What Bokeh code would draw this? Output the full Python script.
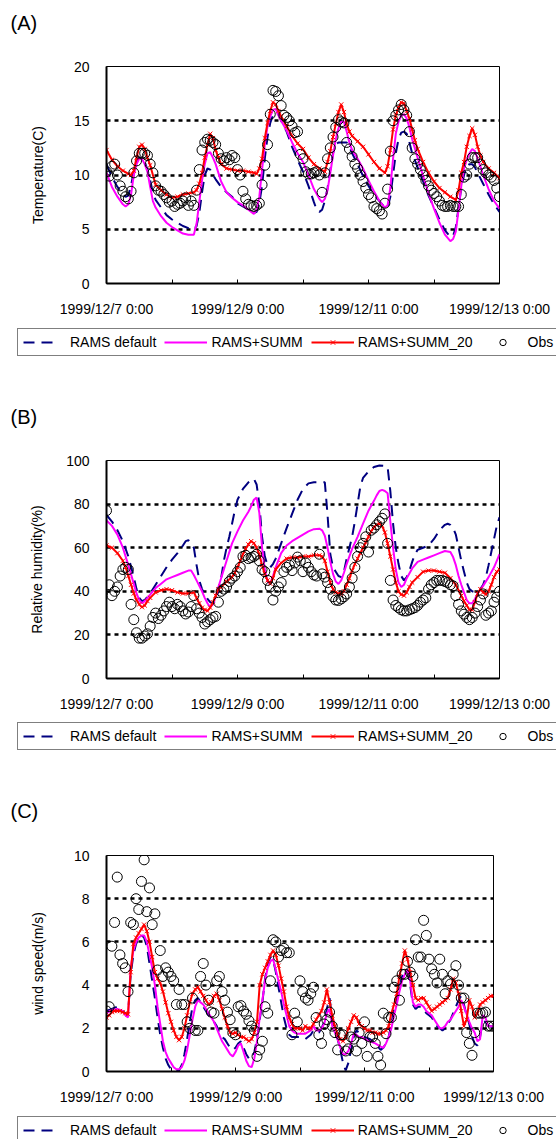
from bokeh.plotting import figure
from bokeh.layouts import column
from bokeh.models import Range1d, FixedTicker, Legend, LegendItem, Label
from bokeh.embed import file_html
from bokeh.resources import INLINE

# ---------------- DATA (hours since 1999/12/7 0:00) ----------------
tick_hours = [0, 24, 48, 72, 96, 120, 144]
tick_labels = {0: "1999/12/7 0:00", 24: "", 48: "1999/12/9 0:00", 72: "",
               96: "1999/12/11 0:00", 120: "", 144: "1999/12/13 0:00"}
series_names = ["RAMS default", "RAMS+SUMM", "RAMS+SUMM_20", "Obs"]

# Panel A: temperature (C)
ta_def = [(0,11.0),(2,9.8),(4,8.9),(6,8.2),(7,8.0),(8,8.1),(9,9.0),(10,10.4),(11,11.2),(12,11.6),(13,11.6),(14,11.2),(15,10.5),(16,9.5),(17,8.4),(18,7.7),(20,7.0),(22,6.3),(24,5.9),(26,5.6),(28,5.3),(30,5.1),(32,5.0),(33,5.3),(34,6.5),(35,8.4),(36,10.0),(37,10.6),(38,10.5),(39,10.0),(40,9.6),(42,8.9),(44,8.4),(46,8.0),(48,7.4),(50,7.1),(52,6.8),(54,6.5),(55,6.6),(56,7.4),(57,9.0),(58,11.5),(59,13.5),(60,14.8),(61,15.5),(62,15.8),(63,15.6),(64,15.0),(66,14.0),(68,12.6),(70,11.4),(72,10.3),(74,9.0),(76,7.5),(77,6.8),(78,6.6),(79,6.8),(80,7.6),(81,8.8),(82,10.5),(83,12.0),(84,12.8),(85,13.0),(86,13.0),(88,13.0),(89,12.6),(90,12.0),(92,11.0),(94,9.9),(96,9.0),(98,8.2),(100,7.6),(102,7.0),(103,7.0),(104,8.0),(105,10.0),(106,12.0),(107,13.3),(108,13.9),(109,14.0),(110,13.8),(111,13.0),(112,12.0),(114,10.7),(116,9.4),(118,8.1),(120,7.0),(122,5.9),(124,4.9),(126,4.3),(127,4.4),(128,5.2),(129,7.0),(130,8.8),(131,10.0),(132,10.8),(133,11.0),(134,11.0),(135,10.7),(136,10.2),(138,9.2),(140,8.2),(142,7.3),(144,6.6)]
ta_summ = [(0,10.2),(2,8.9),(4,8.0),(6,7.3),(7,7.1),(8,7.3),(9,8.2),(10,10.0),(11,11.0),(12,11.5),(13,11.5),(14,11.0),(15,10.3),(16,8.9),(17,7.6),(18,7.0),(20,6.2),(22,5.6),(24,5.2),(26,4.9),(28,4.6),(30,4.5),(32,4.5),(33,5.5),(34,7.5),(35,9.5),(36,11.0),(37,12.0),(38,12.1),(39,11.6),(40,11.0),(41,10.2),(42,9.4),(44,8.4),(46,7.9),(48,7.5),(50,7.2),(52,6.8),(54,6.4),(55,6.8),(56,8.0),(57,10.5),(58,12.8),(59,14.5),(60,15.4),(61,16.0),(62,16.1),(63,15.5),(64,15.0),(66,14.1),(68,13.0),(70,12.0),(72,11.2),(74,10.0),(76,8.7),(78,7.8),(79,7.5),(80,7.8),(81,8.6),(82,10.2),(83,11.8),(84,13.3),(85,14.3),(86,14.9),(87,14.9),(88,14.0),(89,13.0),(90,12.3),(92,11.5),(94,10.6),(96,9.5),(98,8.5),(100,7.6),(102,7.0),(103,7.2),(104,8.8),(105,11.5),(106,13.8),(107,14.9),(108,15.5),(109,15.6),(110,15.2),(111,14.4),(112,13.3),(114,11.6),(116,9.9),(118,8.3),(120,6.9),(122,5.6),(124,4.5),(126,3.9),(127,4.1),(128,4.8),(129,6.8),(130,9.0),(131,10.6),(132,11.4),(133,12.0),(134,12.4),(135,12.2),(136,11.5),(137,10.8),(138,10.0),(140,8.7),(142,7.6),(144,6.9)]
ta_s20 = [(0,12.3),(2,11.4),(4,10.8),(6,10.4),(8,10.1),(9,10.0),(10,10.4),(11,11.6),(12,12.6),(13,12.8),(14,12.4),(15,11.6),(16,10.9),(18,9.1),(20,8.6),(22,8.2),(24,7.9),(26,8.0),(28,8.2),(30,8.3),(32,8.4),(33,8.6),(34,9.2),(35,10.2),(36,11.6),(37,12.8),(38,13.8),(39,13.4),(40,12.3),(41,11.6),(42,11.0),(44,10.6),(46,10.5),(48,10.4),(50,10.4),(52,10.3),(54,10.2),(55,10.1),(56,10.6),(57,11.5),(58,13.4),(59,14.8),(60,15.9),(61,16.7),(62,16.5),(63,15.9),(64,15.4),(66,14.5),(68,13.6),(70,12.9),(72,12.4),(74,11.6),(76,11.0),(78,10.6),(80,10.3),(81,11.2),(82,12.2),(83,13.5),(84,14.7),(85,15.8),(86,16.5),(87,15.8),(88,14.7),(89,14.0),(90,13.6),(92,13.1),(94,12.6),(96,11.9),(98,11.2),(100,10.6),(102,10.2),(103,10.8),(104,12.3),(105,14.2),(106,15.5),(107,16.2),(108,16.7),(109,16.6),(110,15.9),(111,15.2),(112,14.2),(113,13.2),(114,12.4),(116,11.2),(118,10.2),(120,9.4),(122,8.8),(124,8.4),(126,8.0),(128,7.7),(129,8.6),(130,10.2),(131,11.2),(132,12.6),(133,13.6),(134,14.3),(135,13.7),(136,12.6),(137,11.8),(138,11.2),(140,10.6),(142,10.2),(144,9.7)]
ta_obs = [10.3,9.9,10.8,11.0,10.0,9.0,8.5,8.0,7.8,8.5,10.2,11.3,12.0,12.0,12.0,11.8,11.0,10.2,9.0,8.6,8.5,8.2,7.9,7.5,7.6,7.1,7.3,7.4,7.6,7.9,7.2,7.6,7.2,8.6,10.5,12.3,13.0,13.3,13.2,13.0,12.8,12.0,11.5,11.3,11.6,11.4,11.8,11.6,10.5,10.0,8.5,7.8,7.3,7.2,7.1,7.2,7.4,9.1,10.9,12.8,15.6,17.8,17.7,17.3,16.4,15.5,15.3,15.0,14.5,13.9,14.0,11.9,11.5,10.3,10.1,10.1,10.2,10.3,10.0,8.4,10.2,11.5,12.5,13.5,14.4,15.1,14.9,14.8,13.0,12.4,11.7,11.0,10.6,10.0,9.4,8.8,8.2,7.9,7.1,6.9,6.7,6.4,7.4,8.7,12.2,15.0,15.5,16.0,16.5,16.0,15.5,14.0,12.5,11.5,11.0,10.5,10.0,9.5,9.0,8.6,8.3,8.0,7.6,7.2,7.1,7.1,7.2,7.1,7.1,7.1,8.2,9.8,10.0,11.0,11.6,11.6,11.6,11.0,10.5,10.2,10.0,9.8,9.5,8.8,8.0]

# Panel B: relative humidity (%)
rh_def = [(0,75),(2,72),(4,68),(6,63),(8,56),(10,46.5),(11,41),(12,37),(13,35.5),(14,36),(16,39),(18,43),(20,47),(22,51),(24,54.5),(26,57.5),(28,61),(29,63),(30,63.4),(31,62),(32,60),(33,52),(34,45),(35,41),(36,38.5),(37,36.5),(38,35),(39,34.3),(40,36),(41,40),(42,46),(43,54),(44,60),(45,65),(46,71),(47,77),(48,82),(50,87),(52,90),(54,91.6),(55,89),(56,80),(57,65),(58,56),(59,52),(60,51),(61,52.5),(62,55),(64,62),(66,69),(68,75.5),(70,82),(72,87),(74,89.5),(76,90),(78,90),(80,90),(81,75),(82,57),(83,51),(84,49),(85,47),(86,46.5),(87,49),(88,55),(89,60),(90,65),(91,72),(92,80),(93,88),(94,92),(96,95),(98,97),(100,97.7),(102,97.5),(103,97),(104,86),(105,71),(106,60),(107,52.6),(108,47),(109,45),(110,46.5),(111,49.5),(112,53.5),(113,57),(114,59),(116,60),(118,61),(120,64),(122,68),(124,70.5),(125,71),(126,70.5),(127,69),(128,66),(129,60),(130,54),(131,49),(132,44),(133,41),(134,40),(135,39.6),(136,39.8),(137,41),(138,43),(139,46.5),(140,52),(141,58),(142,64),(143,70),(144,74)]
rh_summ = [(0,72.5),(2,70),(4,66),(6,60),(8,52),(10,43.4),(11,39),(12,36),(13,34.5),(14,35.5),(16,38.5),(18,41.5),(20,43.5),(22,45.5),(24,46.5),(26,47.5),(28,48.5),(30,49.5),(31,49.5),(32,47.5),(33,45),(34,42.5),(35,40),(36,37),(37,34.5),(38,32.7),(39,34),(40,37.5),(41,42),(42,46),(44,54),(46,62),(48,67.5),(50,72.5),(52,76.5),(53,79),(54,82),(55,83),(56,76),(57,60),(58,50),(59,44.5),(60,43.5),(61,47),(62,51),(64,57.5),(66,61),(68,63),(70,64.5),(72,66),(74,67.5),(76,68.5),(78,68.7),(79,68),(80,65.5),(81,60),(82,53.5),(83,48),(84,44.5),(85,43.4),(86,45),(87,48.5),(88,52.5),(89,56),(90,59.5),(92,65),(94,71),(96,77),(98,81.5),(99,84),(100,86),(101,86.5),(102,86),(103,85),(104,72),(105,60),(106,50),(107,44),(108,42),(109,43),(110,46),(112,50.5),(114,53.5),(116,54.5),(118,55.5),(120,56.5),(122,57.5),(124,58.5),(126,58),(127,55.7),(128,52),(129,47),(130,43),(131,39.5),(132,36),(133,34.5),(134,34.5),(135,36.5),(136,39),(138,42.5),(140,46.5),(142,51),(143,54),(144,57)]
rh_s20 = [(0,61),(2,60),(4,57.5),(6,54),(7,51),(8,47),(9,43),(10,39),(11,36),(12,34),(13,32.7),(14,33.5),(15,35.5),(16,37),(18,39.5),(20,40.5),(22,41),(24,40.5),(26,39.5),(28,39),(30,39),(32,39.5),(33,37),(34,34.5),(35,32.5),(36,31.5),(37,31),(38,32.5),(39,35),(40,38),(41,41),(42,42),(44,44.5),(46,46.5),(47,48.5),(48,51),(49,54),(50,57),(51,59.5),(52,61.5),(53,63),(54,62),(55,60),(56,57),(57,52),(58,48),(59,45),(60,43.5),(61,46),(62,50),(64,53),(66,55),(68,55.5),(70,55.5),(72,56),(74,56),(76,56.5),(78,56.5),(79,56),(80,54),(81,49),(82,44),(83,41),(84,39.5),(85,39),(86,38.8),(87,40),(88,43),(89,46),(90,49.5),(91,52.5),(92,55),(93,57.5),(94,60),(95,62.5),(96,65),(97,67.5),(98,69.5),(99,70.5),(100,71),(101,70),(102,67),(103,62),(104,56),(105,50),(106,44),(107,40),(108,38.5),(109,38),(110,39.5),(111,42),(112,44),(114,46.5),(116,49),(118,49.5),(120,49.5),(122,49),(124,48.5),(126,46),(128,43),(130,38),(131,35.5),(132,33.5),(133,31.5),(134,31.5),(135,35),(136,39),(137,41),(138,39.5),(139,38.5),(140,40),(141,43),(142,46.5),(143,49),(144,50)]
rh_obs = [77,43,38,40,42,47,50,51,50,34,27,21,18.5,18.5,19.5,20.5,24,28,30,27.5,29,31,33,35,33,32,34,33,31,29.6,30.5,33,38,32,30,28,25,26,27,28,28.5,35,40,41,42,44.5,46,47,49,51,56,56.5,55,55.5,56,57,54,50,49,45,42,36,40,42,44,49,51,52,49.5,53,55.7,54,49,53,51,49,47.5,47,57,48,46.5,44,41,37.5,36,35.8,36.5,37.5,38.8,42,46,51,56,60,62,65,58,68,69,70.5,72,73.5,75.5,62,45,36,33.5,32.5,31.5,31,31,31.5,32,32.5,33.5,35,36,37,41,43,44,45,45,45,44.5,44,43,42.5,38,34,31,29.5,28,27,28,30,33,36,38.8,29,30,31,35,37.3,40]

# Panel C: wind speed (m/s)
ws_def = [(0,2.8),(2,2.9),(4,3.0),(6,2.8),(7,2.7),(8,2.6),(9,4.5),(10,5.4),(11,5.9),(12,6.2),(13,6.3),(14,6.2),(15,5.8),(16,5.0),(17,4.2),(18,3.4),(19,2.5),(20,1.7),(21,1.1),(22,0.6),(23,0.3),(24,0.1),(25,0.0),(26,0.0),(27,0.05),(28,0.3),(29,0.8),(30,1.5),(31,2.3),(32,3.0),(33,3.3),(34,3.4),(35,3.2),(36,3.0),(37,2.8),(38,2.6),(39,2.5),(40,2.3),(41,2.1),(42,1.8),(43,1.6),(44,1.5),(45,1.3),(46,1.1),(47,1.0),(48,1.1),(49,1.3),(50,1.4),(51,1.1),(52,0.8),(53,0.6),(54,0.6),(55,0.9),(56,1.5),(57,2.4),(58,3.2),(59,4.3),(60,5.0),(61,5.3),(62,5.2),(63,4.6),(64,3.9),(65,3.2),(66,2.5),(67,2.0),(68,1.7),(69,1.6),(70,1.6),(72,1.6),(74,1.5),(76,1.7),(77,1.9),(78,1.8),(79,1.8),(80,2.0),(81,2.3),(82,2.9),(83,3.4),(84,2.4),(85,1.9),(86,1.5),(87,1.0),(88,0.4),(89,0.05),(90,0.4),(91,1.0),(92,1.6),(93,1.9),(94,1.8),(95,1.7),(96,1.6),(98,1.5),(100,1.3),(102,1.0),(103,1.1),(104,1.3),(105,1.6),(106,2.2),(107,2.9),(108,3.4),(109,3.9),(110,4.4),(111,4.7),(112,4.7),(113,4.0),(114,3.1),(115,2.9),(116,3.0),(117,3.0),(118,2.9),(119,2.7),(120,2.6),(121,2.5),(122,2.3),(123,2.1),(124,2.0),(125,1.9),(126,2.0),(127,2.2),(128,2.4),(129,2.7),(130,3.0),(131,3.3),(132,3.5),(133,3.1),(134,2.6),(135,2.2),(136,1.6),(137,1.3),(138,1.2),(139,1.6),(140,2.3),(141,2.3),(142,2.1),(143,2.1),(144,2.0)]
ws_summ = [(0,2.7),(2,2.85),(4,2.9),(6,2.8),(7,2.6),(8,2.5),(9,4.8),(10,5.6),(11,6.0),(12,6.2),(13,6.3),(14,6.3),(15,6.0),(16,5.4),(17,4.8),(18,4.0),(19,3.0),(20,2.2),(21,1.4),(22,0.9),(23,0.6),(24,0.4),(25,0.2),(26,0.1),(27,0.1),(28,0.2),(29,0.5),(30,1.0),(31,1.7),(32,2.4),(33,3.0),(34,3.3),(35,3.2),(36,3.1),(37,2.9),(38,2.7),(39,2.5),(40,2.3),(41,2.0),(42,1.7),(43,1.4),(44,1.2),(45,1.0),(46,0.8),(47,0.7),(48,0.9),(49,1.2),(50,1.3),(51,0.9),(52,0.5),(53,0.25),(54,0.2),(55,0.6),(56,1.4),(57,2.5),(58,3.3),(59,4.2),(60,4.8),(61,5.1),(62,5.2),(63,4.7),(64,4.2),(65,3.7),(66,3.1),(67,2.6),(68,2.1),(69,1.9),(70,1.8),(71,1.75),(72,1.75),(74,1.75),(76,1.9),(77,2.1),(78,1.9),(79,1.9),(80,2.0),(81,2.2),(82,2.7),(83,2.9),(84,2.1),(85,1.8),(86,1.5),(87,1.1),(88,0.8),(89,0.8),(90,0.95),(91,1.3),(92,1.75),(93,1.7),(94,1.6),(95,1.6),(96,1.5),(98,1.4),(100,1.3),(102,1.15),(103,1.1),(104,1.3),(105,1.6),(106,2.0),(107,2.6),(108,3.1),(109,3.7),(110,4.2),(111,4.5),(112,4.7),(113,4.2),(114,3.2),(115,3.0),(116,3.1),(117,3.1),(118,3.0),(119,2.8),(120,2.7),(121,2.6),(122,2.4),(123,2.2),(124,2.0),(125,2.0),(126,2.1),(127,2.3),(128,2.4),(129,2.6),(130,2.8),(131,3.0),(132,3.3),(133,3.0),(134,2.65),(135,2.3),(136,2.0),(137,1.8),(138,1.4),(139,1.5),(140,2.6),(141,2.5),(142,2.1),(143,2.1),(144,2.1)]
ws_s20 = [(0,2.5),(1,2.6),(2,2.75),(3,2.8),(4,2.8),(5,2.8),(6,2.75),(7,2.7),(8,2.65),(9,4.6),(10,5.9),(11,6.2),(12,6.4),(13,6.6),(14,6.8),(15,6.5),(16,6.0),(17,5.3),(18,4.6),(19,4.3),(20,4.1),(21,3.7),(22,3.2),(23,2.7),(24,2.3),(25,1.9),(26,1.6),(27,1.45),(28,1.6),(29,2.0),(30,2.6),(31,3.2),(32,3.6),(33,3.8),(34,3.9),(35,3.7),(36,3.5),(37,3.3),(38,3.1),(39,3.2),(40,3.5),(41,3.6),(42,3.3),(43,2.9),(44,2.5),(45,2.1),(46,1.8),(47,1.75),(48,1.8),(49,1.7),(50,1.6),(51,1.6),(52,1.5),(53,1.4),(54,1.5),(55,1.8),(56,2.3),(57,4.0),(58,4.5),(59,4.8),(60,5.1),(61,5.4),(62,5.6),(63,5.4),(64,4.9),(65,4.3),(66,3.7),(67,3.0),(68,2.5),(69,2.2),(70,2.0),(71,2.0),(72,2.0),(73,1.9),(74,2.1),(75,2.0),(76,2.0),(77,2.2),(78,2.4),(79,2.6),(80,2.8),(81,3.2),(82,3.8),(83,3.2),(84,2.6),(85,2.1),(86,1.7),(87,1.5),(88,1.4),(89,1.6),(90,2.0),(91,2.3),(92,2.6),(93,2.5),(94,2.2),(95,2.1),(96,2.0),(97,1.9),(98,1.9),(99,1.8),(100,1.8),(101,1.75),(102,1.75),(103,1.8),(104,1.9),(105,2.1),(106,2.7),(107,3.1),(108,3.6),(109,4.4),(110,5.0),(111,5.6),(112,5.2),(113,4.6),(114,4.0),(115,3.4),(116,3.3),(117,3.4),(118,3.4),(119,3.2),(120,3.0),(121,2.8),(122,2.9),(123,3.0),(124,3.1),(125,3.2),(126,3.3),(127,3.4),(128,3.8),(129,4.3),(130,4.1),(131,3.6),(132,2.8),(133,2.1),(134,2.4),(135,3.3),(136,3.0),(137,2.5),(138,2.7),(139,3.1),(140,3.2),(141,3.3),(142,3.4),(143,3.5),(144,3.5)]
ws_obs = [2.8,3.0,5.8,6.9,9.0,5.4,5.0,4.8,3.7,6.9,6.8,8.0,7.5,8.8,9.8,7.4,8.5,6.8,7.3,4.7,5.6,4.4,4.8,4.6,4.4,4.2,3.1,3.8,3.1,3.1,2.3,2.0,3.4,1.9,1.9,4.4,5.0,4.0,3.3,2.75,2.7,4.2,4.4,3.7,3.3,2.75,2.4,1.8,1.7,3.0,3.05,2.8,2.65,2.35,2.1,1.9,0.7,1.0,1.4,3.0,2.7,4.2,6.1,6.0,5.3,5.6,5.7,5.5,5.5,1.7,2.7,2.3,4.2,3.7,3.4,3.3,3.6,3.9,2.5,1.7,1.3,2.2,2.4,2.75,2.1,1.8,1.0,1.7,1.7,0.95,1.05,1.6,1.5,0.95,1.8,1.3,2.3,0.7,1.6,1.6,1.3,0.7,0.3,2.7,1.75,2.5,2.5,3.9,4.2,3.3,4.5,4.5,5.1,4.6,4.4,6.1,5.3,5.3,7.0,6.3,5.2,4.75,4.5,4.1,5.2,4.5,3.6,4.2,4.05,4.5,4.9,4.0,3.4,3.4,1.8,1.3,0.75,1.8,2.7,2.7,2.7,2.75,2.1,2.1,2.1]

FONT = "Liberation Sans"
W = 556
NAVY, MAGENTA, RED = "#000080", "#FF00FF", "#FF0000"


def main_panel(ylabel, ymax, ystep, d_def, d_summ, d_s20, obs, top, fh,
               right_border, ylabel_standoff):
    height = 284
    p = figure(width=W, height=height, output_backend="svg", toolbar_location=None,
               x_range=Range1d(0, 144), y_range=Range1d(0, ymax),
               min_border_left=106, min_border_right=right_border,
               min_border_top=top, min_border_bottom=height - top - fh,
               frame_align=False)
    p.outline_line_color = "black"
    p.outline_line_width = 1
    p.background_fill_color = "white"
    p.border_fill_color = "white"

    p.xaxis.ticker = FixedTicker(ticks=tick_hours)
    p.xaxis.major_label_overrides = tick_labels
    p.xaxis.major_tick_in = 4
    p.xaxis.major_tick_out = 0
    p.xaxis.minor_tick_line_color = None
    p.xaxis.major_label_standoff = 17
    p.yaxis.ticker = FixedTicker(ticks=[ystep * i for i in range(int(ymax / ystep) + 1)])
    p.yaxis.major_tick_line_color = None
    p.yaxis.minor_tick_line_color = None
    p.yaxis.major_label_standoff = 11
    p.yaxis.axis_label = ylabel
    p.yaxis.axis_label_standoff = ylabel_standoff
    p.yaxis.axis_label_text_font_style = "normal"
    for ax in (p.xaxis, p.yaxis):
        ax.axis_line_width = 2
        ax.axis_line_color = "black"
        ax.major_label_text_font = FONT
        ax.major_label_text_font_size = "14px"
        ax.major_label_text_color = "black"
        ax.axis_label_text_font = FONT
        ax.axis_label_text_font_size = "14px"
        ax.axis_label_text_color = "black"
    p.xgrid.grid_line_color = None
    p.ygrid.grid_line_color = "black"
    p.ygrid.grid_line_width = 2.5
    p.ygrid.grid_line_dash = "4 4"

    p.line([a for a, b in d_def], [b for a, b in d_def], color=NAVY,
           line_width=2, line_dash="11 7")
    p.line([a for a, b in d_summ], [b for a, b in d_summ], color=MAGENTA, line_width=2)
    p.line([a for a, b in d_s20], [b for a, b in d_s20], color=RED, line_width=2)
    p.scatter([a for a, b in d_s20], [b for a, b in d_s20], marker="x",
              size=6, line_color=RED, line_width=1)
    p.scatter(list(range(len(obs))), obs, marker="circle", size=10,
              fill_color=None, line_color="black", line_width=1)
    return p


def gap_strip(h, legend_top=None, tag=None, tag_y=None):
    p = figure(width=W, height=h, output_backend="svg", toolbar_location=None,
               x_range=Range1d(0, W), y_range=Range1d(0, h),
               x_axis_type=None, y_axis_type=None,
               min_border_left=0, min_border_right=0, min_border_top=0,
               min_border_bottom=0, frame_align=False)
    p.outline_line_color = None
    p.background_fill_color = "white"
    p.border_fill_color = "white"
    if legend_top is not None:
        off = [-1000]
        r_def = p.line(off, off, color=NAVY, line_width=2, line_dash="11 7 11 14")
        r_summ = p.line(off, off, color=MAGENTA, line_width=2)
        r_s20 = p.line(off, off, color=RED, line_width=2)
        r_s20m = p.scatter(off, off, marker="x", size=6, line_color=RED, line_width=1)
        r_obs = p.scatter(off, off, marker="circle", size=9, fill_color=None,
                          line_color="black", line_width=1)
        legend = Legend(items=[
            LegendItem(label=series_names[0], renderers=[r_def]),
            LegendItem(label=series_names[1], renderers=[r_summ]),
            LegendItem(label=series_names[2], renderers=[r_s20, r_s20m]),
            LegendItem(label=series_names[3], renderers=[r_obs]),
        ], orientation="horizontal", location=(17, h - legend_top - 26),
            glyph_width=43, glyph_height=16, label_height=16, label_standoff=4,
            spacing=8, padding=5, margin=0,
            border_line_color="black", border_line_width=1,
            background_fill_color="white", background_fill_alpha=1.0,
            label_text_font=FONT, label_text_font_size="14px",
            label_text_color="black")
        p.add_layout(legend)
    if tag is not None:
        p.add_layout(Label(x=10, y=h - tag_y, text=tag, text_font=FONT,
                           text_font_size="20px", text_baseline="middle",
                           text_color="black"))
    return p


g0 = gap_strip(44, tag="(A)", tag_y=22)
pa = main_panel("Temperature(C)", 20, 5, ta_def, ta_summ, ta_s20, ta_obs, 22, 217, 57, 25)
g1 = gap_strip(110, legend_top=2, tag="(B)", tag_y=88)
pb = main_panel("Relative humidity(%)", 100, 20, rh_def, rh_summ, rh_s20, rh_obs, 22, 218, 57, 18)
g2 = gap_strip(110, legend_top=2, tag="(C)", tag_y=88)
pc = main_panel("wind speed(m/s)", 10, 2, ws_def, ws_summ, ws_s20, ws_obs, 23, 216, 63, 25)
g3 = gap_strip(23, legend_top=2)

layout = column(g0, pa, g1, pb, g2, pc, g3, spacing=0)
open("out.html", "w").write(file_html(layout, INLINE))
